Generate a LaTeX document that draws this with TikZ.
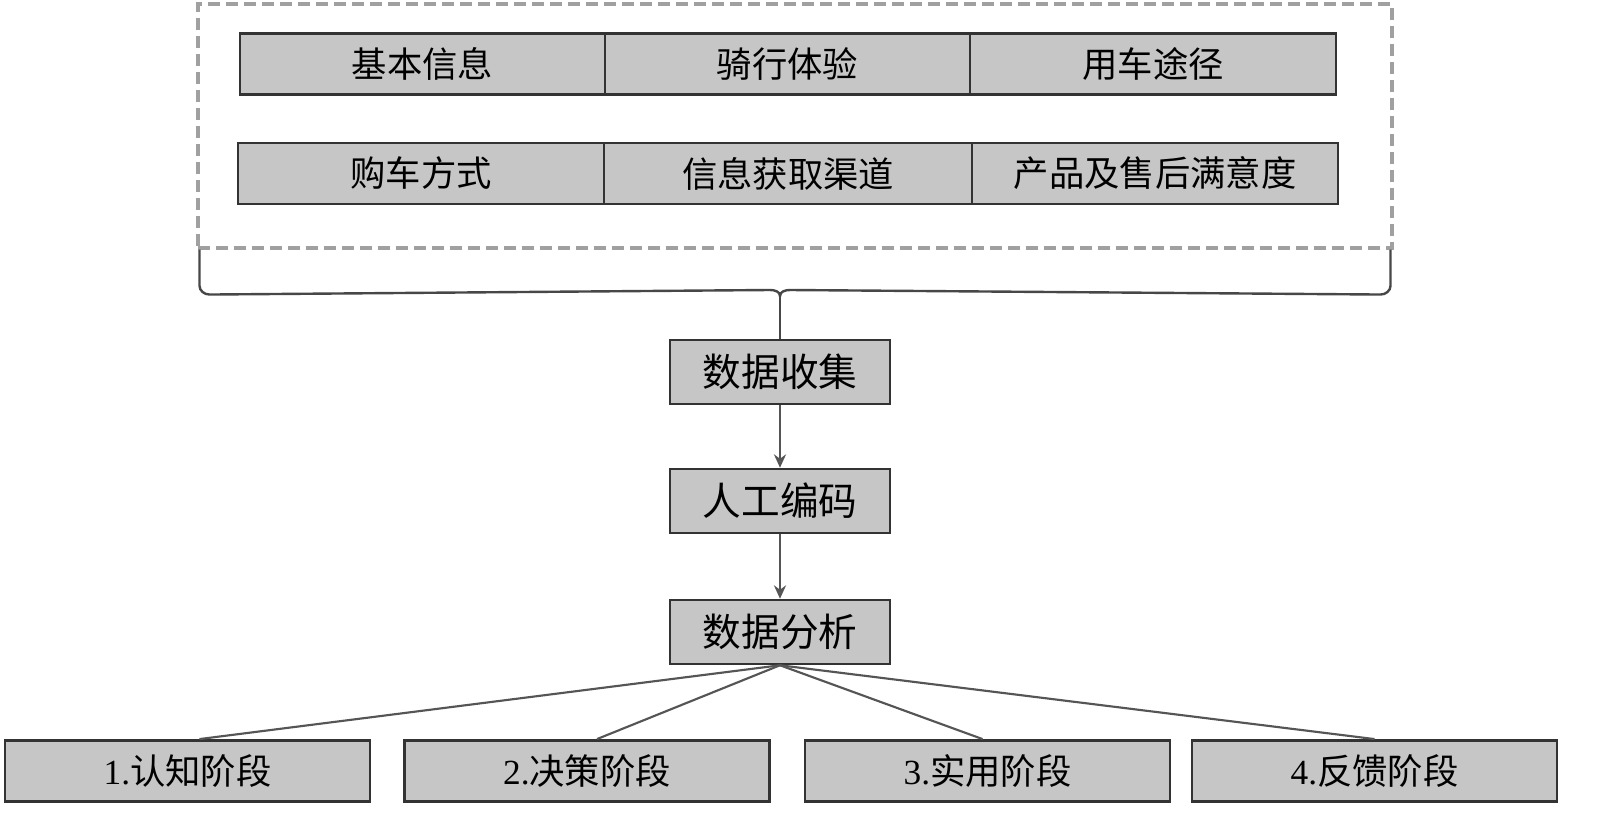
\documentclass[tikz,border=0pt]{standalone}
\usepackage{fontspec}
\setmainfont{Liberation Serif}
\newfontfamily\cjk{Noto Sans CJK SC}
\usetikzlibrary{arrows.meta,calc}
\definecolor{boxfill}{HTML}{C6C6C6}
\definecolor{boxline}{HTML}{333333}
\definecolor{dashgray}{HTML}{A0A0A0}
\definecolor{linkgray}{HTML}{555555}
\begin{document}
\begin{tikzpicture}[x=0.75pt,y=-0.75pt,
  cell/.style={draw=boxline,fill=boxfill,line width=1.9pt,inner sep=0pt,
    minimum height=46pt,font=\cjk\fontsize{26.5}{30}\selectfont},
  midbox/.style={cell,minimum width=165pt,minimum height=48pt,font=\cjk\fontsize{29}{32}\selectfont},
  stagebox/.style={cell,minimum width=274pt,minimum height=46pt},
  link/.style={draw=linkgray,line width=1.6pt},
  arr/.style={link,-{Stealth[length=10pt,width=9pt,open,fill=linkgray!60]}}
]
\useasboundingbox (0,0) rectangle (1600,821);
% dashed frame
\node[draw=dashgray,dash pattern=on 9pt off 4.5pt,line width=2.3pt,
  minimum width=895.5pt,minimum height=183pt,inner sep=0pt] (frame) at (795,126) {};
% row 1
\node[cell,minimum width=273.75pt] (c11) at (422.5,64) {基本信息};
\node[cell,minimum width=273.75pt] (c12) at (787.5,64) {骑行体验};
\node[cell,minimum width=274.5pt] (c13) at (1153,64) {用车途径};
% row 2
\node[cell,minimum width=274.5pt] (c21) at (421,173.5) {购车方式};
\node[cell,minimum width=276pt] (c22) at (788,173.5) {信息获取渠道};
\node[cell,minimum width=274.5pt] (c23) at (1155,173.5) {产品及售后满意度};
% middle column
\node[midbox] (collect) at (780,372) {数据收集};
\node[midbox] (code) at (780,501) {人工编码};
\node[midbox] (analysis) at (780,632) {数据分析};
% stages
\node[stagebox] (s1) at (187.5,771) {\rmfamily 1.\cjk 认知阶段};
\node[stagebox] (s2) at (587,771) {\rmfamily 2.\cjk 决策阶段};
\node[stagebox] (s3) at (987.5,771) {\rmfamily 3.\cjk 实用阶段};
\node[stagebox] (s4) at (1374.5,771) {\rmfamily 4.\cjk 反馈阶段};
% brace under the frame
\coordinate (tip) at (collect.north |- 0,296);
\draw[link,line width=1.8pt,draw=boxline!90]
  ($(frame.south west)+(3,0)$) -- ++(0,36) to[out=-90,in=180] ++(10,9)
  -- ($(tip)+(-10,-6)$) to[out=0,in=90] (tip)
  to[out=90,in=180] ($(tip)+(10,-6)$)
  -- ($(frame.south east)+(-13,45)$) to[out=0,in=-90] ++(10,-9) -- ($(frame.south east)+(-3,0)$);
\draw[link,line width=1.8pt,draw=boxline!90] (tip) -- (collect.north);
% arrows
\draw[arr] (collect) -- (code);
\draw[arr] (code) -- (analysis);
% fan-out
\draw[link] (analysis.south) -- ($(s1.north)+(12,0)$);
\draw[link] (analysis.south) -- ($(s2.north)+(10,0)$);
\draw[link] (analysis.south) -- ($(s3.north)+(-5,0)$);
\draw[link] (analysis.south) -- ($(s4.north)+(0,0)$);
\end{tikzpicture}
\end{document}
